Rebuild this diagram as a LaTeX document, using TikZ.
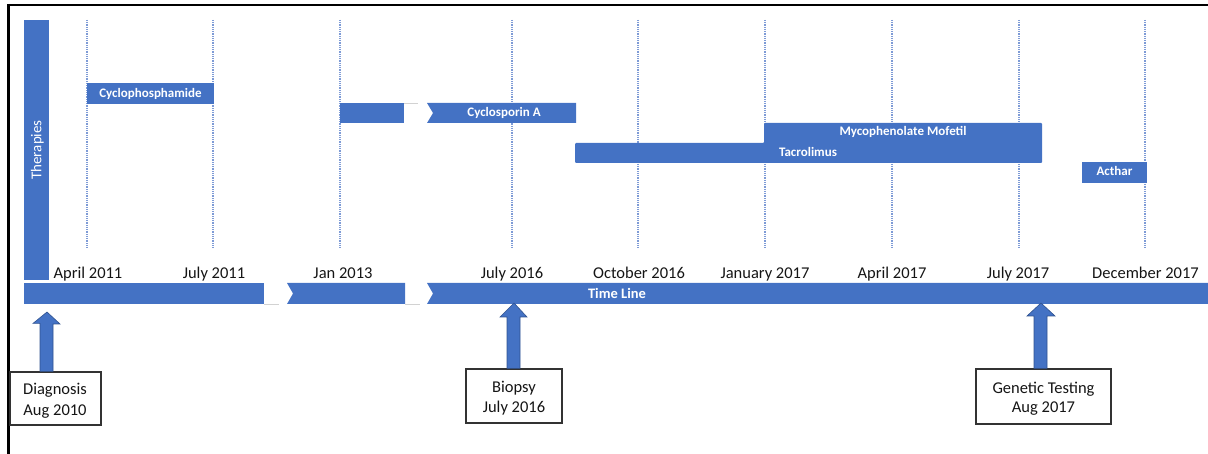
\documentclass[tikz,border=0pt]{standalone}
\usepackage{fontspec}
\setmainfont{Carlito}
\usetikzlibrary{calc}
\definecolor{obl}{HTML}{4472C4}
\definecolor{obldark}{HTML}{2F528F}
\definecolor{dotbl}{HTML}{7E9BD6}
\definecolor{txt}{HTML}{151515}
\tikzset{
  bar/.style={fill=obl, draw=none},
  barlabel/.style={text=white, font=\fontsize{13}{15}\selectfont\bfseries, anchor=base, inner sep=0pt},
  datelabel/.style={text=txt, font=\fontsize{16.5}{19}\selectfont, anchor=base, inner sep=0pt},
  guide/.style={dotbl, line width=1.2pt, dash pattern=on 1pt off 0.8pt},
  faint/.style={gray!35, line width=0.8pt},
  blockarrow/.style={fill=obl, draw=obldark, line width=0.6pt, line join=miter},
  eventbox/.style={draw=black!80, line width=1.2pt, fill=white, inner sep=0pt},
  boxtext/.style={text=txt, font=\fontsize{16.5}{19}\selectfont, anchor=base, inner sep=0pt}
}
\begin{document}
\begin{tikzpicture}[x=1pt,y=-1pt]
\useasboundingbox (0,0) rectangle (1208,454);
% frame
\draw[black, line width=2.5pt] (8,5) -- (1208,5);
\draw[black, line width=3pt] (8,4) -- (8,454);

% guide lines
\foreach \gx in {87,213,340,512,638,765,892,1019,1145}
  \draw[guide] (\gx,20) -- (\gx,247);

% Therapies bar
\fill[bar] (24,20) rectangle (49,280);
\node[rotate=90, text=white, font=\fontsize{15}{17}\selectfont, inner sep=0pt] (ther) at (37.5,150) {Therapies};

% therapy bars
\fill[bar] (87,83) rectangle (214,104);
\node[barlabel] (cyclo) at (150.5,98) {Cyclophosphamide};

\fill[bar] (340,103) rectangle (404,123);
\draw[faint] (404,103) -- (418,103);
\fill[bar] (427,103) -- (576,103) -- (576,123) -- (427,123) -- (433,113) -- cycle;
\node[barlabel] (cycA) at (504,117) {Cyclosporin A};

\fill[bar, rounded corners=1pt] (575,143) -- (764,143) -- (764,123) -- (1042,123) -- (1042,163) -- (575,163) -- cycle;
\node[barlabel] (myco) at (903,136) {Mycophenolate Mofetil};
\node[barlabel] (tacro) at (808,157) {Tacrolimus};

\fill[bar] (1082,162) rectangle (1147,183);
\node[barlabel] (acth) at (1114.5,176) {Acthar};

% date labels
\node[datelabel] (d1) at (88,279) {April 2011};
\node[datelabel] (d2) at (214,279) {July 2011};
\node[datelabel] (d3) at (343,279) {Jan 2013};
\node[datelabel] (d4) at (512,279) {July 2016};
\node[datelabel] (d5) at (639,279) {October 2016};
\node[datelabel] (d6) at (765,279) {January 2017};
\node[datelabel] (d7) at (892,279) {April 2017};
\node[datelabel] (d8) at (1018,279) {July 2017};
\node[datelabel] (d9) at (1145.5,279) {December 2017};

% time line
\fill[bar] (24,283) rectangle (264,304);
\draw[faint] (264,304.5) -- (279,304.5);
\fill[bar] (287,283) -- (405,283) -- (405,304) -- (287,304) -- (293,293.5) -- cycle;
\draw[faint] (405,304.5) -- (420,304.5);
\fill[bar] (427,283) -- (1208,283) -- (1208,304) -- (427,304) -- (433,293.5) -- cycle;
\node[text=white, font=\fontsize{14.5}{17}\selectfont\bfseries, anchor=base, inner sep=0pt] (tl) at (617,299) {Time Line};

% event boxes
\node[eventbox, minimum width=91pt, minimum height=53pt] (diag) at (55.5,398.5) {};
\node[boxtext] at (55,395) {Diagnosis};
\node[boxtext] at (55,415) {Aug 2010};

\node[eventbox, minimum width=96pt, minimum height=54pt] (biop) at (514,396) {};
\node[boxtext] at (514,392) {Biopsy};
\node[boxtext] at (514,413) {July 2016};

\node[eventbox, minimum width=135pt, minimum height=55pt] (gene) at (1043.5,396.5) {};
\node[boxtext] at (1043.5,393) {Genetic Testing};
\node[boxtext] at (1043.5,413) {Aug 2017};

% block arrows
\draw[blockarrow] ($(diag.north)+(-15.5,0)$) -- ++(0,-48) -- ++(-7,0) -- (47,312) -- (60,324) -- ++(-7,0) -- ($(diag.north)+(-2.5,0)$) -- cycle;
\draw[blockarrow] ($(biop.north)+(-7,0)$) -- (507,317) -- (500,317) -- (514,303) -- (527,317) -- (520,317) -- ($(biop.north)+(6,0)$) -- cycle;
\draw[blockarrow] ($(gene.north)+(-9.5,0)$) -- (1034,316) -- (1027,316) -- (1041,303) -- (1055,316) -- (1047,316) -- ($(gene.north)+(3.5,0)$) -- cycle;
\end{tikzpicture}
\end{document}
